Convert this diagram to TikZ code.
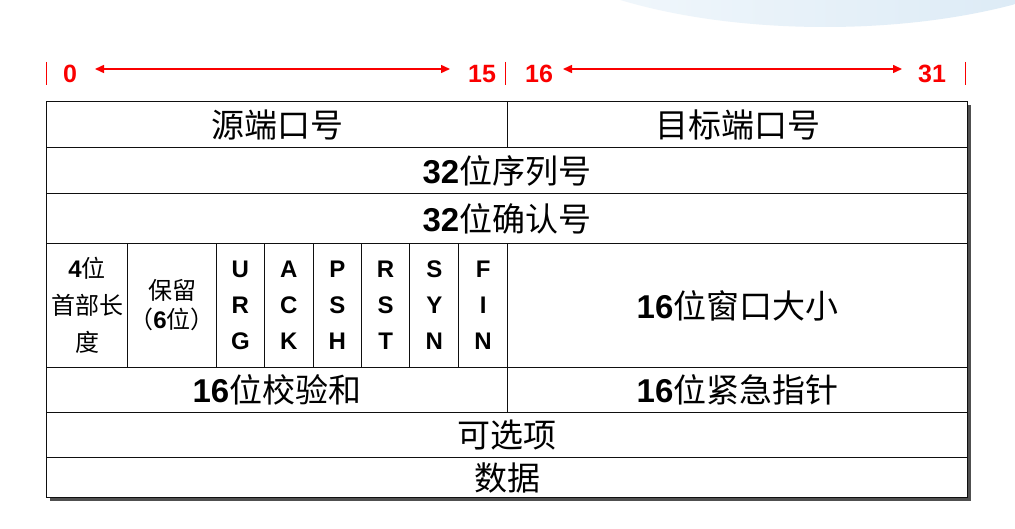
\documentclass[tikz,border=0pt]{standalone}
\usepackage{fontspec}
\setmainfont{Liberation Sans}
\newfontfamily\cjk{Noto Sans CJK SC}
\usetikzlibrary{arrows.meta}
\definecolor{hdrred}{RGB}{250,0,0}
\definecolor{shadowgray}{RGB}{80,80,80}
\definecolor{gridline}{RGB}{15,15,15}
\definecolor{bglight}{RGB}{246,250,253}
\definecolor{bgblue}{RGB}{214,231,244}
\begin{document}
\begin{tikzpicture}[x={(1pt,0pt)},y={(0pt,-1pt)},
  cell/.style={draw=gridline, line width=1pt, fill=white, anchor=north west, inner sep=0pt},
  big/.style={font=\fontsize{33}{38}\selectfont},
  flag/.style={font=\fontsize{24}{36}\selectfont\bfseries, align=center},
  small/.style={font=\fontsize{24}{37}\selectfont, align=center},
  hdr/.style={text=hdrred, font=\fontsize{25}{28}\selectfont\bfseries, inner sep=0pt},
  tick/.style={draw=hdrred, line width=1pt},
  span/.style={draw=hdrred, line width=1.5pt, {Triangle[length=9pt,width=8pt]}-{Triangle[length=9pt,width=8pt]}}
]
\useasboundingbox (0,0) rectangle (1015,529);
\fill[white] (0,0) rectangle (1015,529);
\begin{scope}
  \clip (0,0) rectangle (1015,529);
  \shade[left color=bglight, right color=bgblue] (825,-100) ellipse [x radius=332pt, y radius=127pt];
\end{scope}

% header
\draw[tick] (46.7,62) -- (46.7,85);
\draw[tick] (505,62) -- (505,85);
\draw[tick] (965,62) -- (965,85);
\node[hdr] (b0) at (70,74) {0};
\node[hdr] (b15) at (482,74) {15};
\node[hdr] (b16) at (539,74) {16};
\node[hdr] (b31) at (932,74) {31};
\coordinate (a0s) at (95,69);
\coordinate (a0e) at (450,69);
\coordinate (a1s) at (563,69);
\coordinate (a1e) at (902,69);
\draw[span] (a0s) -- (a0e);
\draw[span] (a1s) -- (a1e);

% shadow
\fill[shadowgray] (50,105) rectangle (971,501);

% row 1
\node[cell, big, minimum width=461pt, minimum height=45.5pt] (src) at (46,101.5) {\cjk 源端口号};
\node[cell, big, minimum width=460pt, minimum height=45.5pt] (dst) at (507,101.5) {\cjk 目标端口号};
% row 2
\node[cell, big, minimum width=921pt, minimum height=46pt] (seq) at (46,147) {{\bfseries 32}{\cjk 位序列号}};
% row 3
\node[cell, big, minimum width=921pt, minimum height=50pt] (ackn) at (46,193) {{\bfseries 32}{\cjk 位确认号}};
% row 4
\node[cell, small, minimum width=81.3pt, minimum height=124pt] (hlen) at (46,243) {{\bfseries 4}{\cjk 位}\\{\cjk 首部长}\\{\cjk 度}};
\node[cell, font=\fontsize{24}{29}\selectfont, align=center, minimum width=88.4pt, minimum height=124pt] (rsv) at (127.3,243) {{\cjk 保留}\\{\cjk （}{\bfseries 6}{\cjk 位）}};
\node[cell, flag, minimum width=48.3pt, minimum height=124pt] (urg) at (215.7,243) {U\\R\\G};
\node[cell, flag, minimum width=48.7pt, minimum height=124pt] (ackf) at (264,243) {A\\C\\K};
\node[cell, flag, minimum width=48.3pt, minimum height=124pt] (psh) at (312.7,243) {P\\S\\H};
\node[cell, flag, minimum width=48.3pt, minimum height=124pt] (rst) at (361,243) {R\\S\\T};
\node[cell, flag, minimum width=49pt, minimum height=124pt] (syn) at (409.3,243) {S\\Y\\N};
\node[cell, flag, minimum width=48.7pt, minimum height=124pt] (fin) at (458.3,243) {F\\I\\N};
\node[cell, big, minimum width=460pt, minimum height=124pt] (win) at (507,243) {{\bfseries 16}{\cjk 位窗口大小}};
% row 5
\node[cell, big, minimum width=461pt, minimum height=45pt] (chk) at (46,367) {{\bfseries 16}{\cjk 位校验和}};
\node[cell, big, minimum width=460pt, minimum height=45pt] (urgp) at (507,367) {{\bfseries 16}{\cjk 位紧急指针}};
% row 6
\node[cell, big, minimum width=921pt, minimum height=45pt] (opt) at (46,412) {\cjk 可选项};
% row 7
\node[cell, big, minimum width=921pt, minimum height=40pt] (data) at (46,457) {\cjk 数据};
\end{tikzpicture}
\end{document}
